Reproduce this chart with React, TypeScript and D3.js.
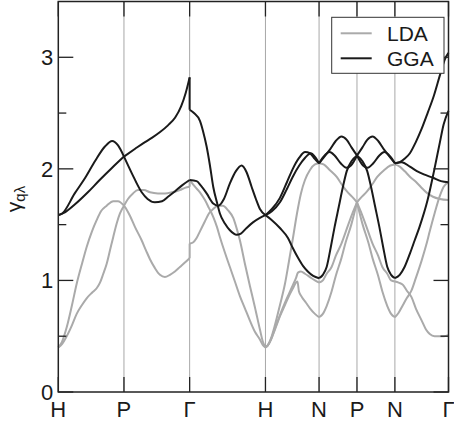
import React from 'react';
import * as d3 from 'd3';

// high-symmetry path of the bcc zone, k in units of 2pi/a
const pathLabels = ['H', 'P', 'Γ', 'H', 'N', 'P', 'N', 'Γ'];
const pathK = [0, 0.866, 1.732, 2.732, 3.439, 3.939, 4.439, 5.146];
const yTicks = [0, 1, 2, 3];
const yMinorTicks = [0.5, 1.5, 2.5];

// bands per segment, points are [t along segment, gamma]
const ggaHP = [
  [[0, 1.585], [0.06, 1.6], [0.25, 1.78], [0.41, 1.92], [0.56, 2.07], [0.71, 2.2], [0.82, 2.25], [0.91, 2.21], [1, 2.11]],
  [[0, 1.585], [0.1, 1.61], [0.25, 1.68], [0.45, 1.79], [0.63, 1.9], [0.82, 2.01], [1, 2.11]],
];
const ggaPG = [
  [[0, 2.11], [0.12, 1.96], [0.27, 1.79], [0.36, 1.73], [0.47, 1.7], [0.58, 1.71], [0.67, 1.75], [0.78, 1.8], [0.88, 1.85], [1, 1.9]],
  [[0, 2.11], [0.17, 2.18], [0.32, 2.24], [0.43, 2.28], [0.55, 2.33], [0.67, 2.39], [0.78, 2.46], [0.87, 2.56], [0.94, 2.68], [1, 2.82]],
];
const ggaGH = [
  [[0, 2.53], [0.057, 2.5], [0.136, 2.43], [0.176, 2.34], [0.224, 2.2], [0.268, 2.03], [0.311, 1.84], [0.36, 1.7], [0.399, 1.6], [0.465, 1.51], [0.531, 1.45], [0.62, 1.41], [0.676, 1.42], [0.751, 1.47], [0.835, 1.52], [0.927, 1.56], [1, 1.585]],
  [[0, 1.9], [0.092, 1.89], [0.149, 1.85], [0.224, 1.78], [0.311, 1.69], [0.377, 1.67], [0.452, 1.73], [0.531, 1.87], [0.61, 1.98], [0.686, 2.03], [0.751, 1.97], [0.817, 1.84], [0.874, 1.73], [0.927, 1.64], [1, 1.585]],
];
const ggaHN = [
  [[0, 1.585], [0.12, 1.54], [0.27, 1.47], [0.42, 1.38], [0.51, 1.29], [0.61, 1.2], [0.7, 1.13], [0.79, 1.08], [0.89, 1.04], [1, 1.02]],
  [[0, 1.585], [0.12, 1.64], [0.27, 1.74], [0.4, 1.88], [0.51, 2.0], [0.63, 2.1], [0.74, 2.15], [0.83, 2.14], [0.92, 2.09], [1, 2.05]],
  [[0, 1.585], [0.12, 1.62], [0.27, 1.7], [0.4, 1.82], [0.51, 1.93], [0.63, 2.03], [0.74, 2.1], [0.85, 2.14], [0.92, 2.11], [1, 2.05]],
];
const ggaNP = [
  [[0, 1.02], [0.1, 1.05], [0.2, 1.12], [0.31, 1.3], [0.41, 1.48], [0.52, 1.66], [0.63, 1.84], [0.73, 1.98], [0.86, 2.07], [1, 2.12]],
  [[0, 2.05], [0.12, 2.1], [0.28, 2.17], [0.44, 2.25], [0.59, 2.29], [0.73, 2.26], [0.86, 2.19], [1, 2.12]],
  [[0, 2.05], [0.12, 2.11], [0.28, 2.15], [0.41, 2.12], [0.57, 2.05], [0.72, 2.01], [0.84, 2.03], [1, 2.12]],
];
const ggaPN = [
  [[0, 2.12], [0.14, 2.07], [0.27, 1.98], [0.37, 1.84], [0.48, 1.66], [0.59, 1.48], [0.69, 1.3], [0.8, 1.12], [0.9, 1.05], [1, 1.02]],
  [[0, 2.12], [0.14, 2.19], [0.27, 2.26], [0.41, 2.29], [0.56, 2.25], [0.72, 2.17], [0.88, 2.1], [1, 2.05]],
  [[0, 2.12], [0.16, 2.03], [0.28, 2.01], [0.43, 2.05], [0.59, 2.12], [0.72, 2.15], [0.88, 2.11], [1, 2.05]],
];
const ggaNG = [
  [[0, 1.02], [0.09, 1.05], [0.18, 1.12], [0.28, 1.24], [0.37, 1.36], [0.46, 1.48], [0.61, 1.72], [0.73, 1.98], [0.84, 2.24], [0.91, 2.4], [1, 2.52]],
  [[0, 2.05], [0.09, 2.06], [0.18, 2.09], [0.28, 2.14], [0.39, 2.24], [0.5, 2.36], [0.61, 2.5], [0.73, 2.66], [0.84, 2.84], [0.93, 2.98], [1, 3.04]],
  [[0, 2.05], [0.13, 2.06], [0.28, 2.02], [0.41, 1.98], [0.54, 1.95], [0.71, 1.92], [0.86, 1.89], [1, 1.88]],
];

const ldaHP = [
  [[0, 0.4], [0.056, 0.45], [0.128, 0.58], [0.209, 0.78], [0.28, 0.97], [0.361, 1.15], [0.432, 1.3], [0.513, 1.44], [0.584, 1.54], [0.65, 1.62], [0.737, 1.67], [0.837, 1.71], [0.909, 1.71], [1, 1.67]],
  [[0, 0.4], [0.056, 0.43], [0.128, 0.5], [0.209, 0.6], [0.28, 0.7], [0.361, 0.78], [0.432, 0.84], [0.513, 0.89], [0.584, 0.93], [0.635, 0.98], [0.685, 1.06], [0.737, 1.15], [0.787, 1.27], [0.837, 1.39], [0.889, 1.51], [0.939, 1.6], [1, 1.67]],
];
const ldaPG = [
  [[0, 1.67], [0.061, 1.73], [0.137, 1.78], [0.213, 1.81], [0.304, 1.81], [0.396, 1.79], [0.517, 1.78], [0.624, 1.78], [0.731, 1.79], [0.852, 1.81], [0.928, 1.83], [1, 1.84]],
  [[0, 1.67], [0.046, 1.63], [0.091, 1.58], [0.167, 1.48], [0.269, 1.36], [0.335, 1.27], [0.396, 1.19], [0.472, 1.11], [0.548, 1.05], [0.624, 1.03], [0.7, 1.05], [0.776, 1.08], [0.852, 1.12], [0.928, 1.16], [1, 1.2]],
];
const ldaGH = [
  [[0, 1.9], [0.07, 1.84], [0.136, 1.79], [0.202, 1.72], [0.254, 1.65], [0.311, 1.57], [0.36, 1.48], [0.399, 1.39], [0.465, 1.25], [0.531, 1.12], [0.597, 0.99], [0.663, 0.86], [0.729, 0.75], [0.795, 0.64], [0.861, 0.54], [0.927, 0.47], [0.966, 0.42], [1, 0.4]],
  [[0, 1.33], [0.044, 1.34], [0.092, 1.38], [0.136, 1.44], [0.202, 1.53], [0.254, 1.6], [0.311, 1.64], [0.373, 1.67], [0.439, 1.67], [0.505, 1.63], [0.575, 1.56], [0.623, 1.46], [0.663, 1.36], [0.729, 1.15], [0.795, 0.95], [0.861, 0.76], [0.927, 0.56], [0.966, 0.45], [1, 0.4]],
];
const ldaHN = [
  [[0, 0.4], [0.047, 0.42], [0.103, 0.48], [0.177, 0.6], [0.271, 0.78], [0.364, 0.97], [0.438, 1.17], [0.513, 1.38], [0.588, 1.6], [0.662, 1.78], [0.737, 1.9], [0.83, 1.99], [0.923, 2.04], [1, 2.05]],
  [[0, 0.4], [0.047, 0.42], [0.103, 0.47], [0.177, 0.57], [0.271, 0.69], [0.364, 0.8], [0.438, 0.88], [0.513, 0.96], [0.569, 1.02], [0.606, 1.07], [0.662, 1.08], [0.737, 1.06], [0.83, 1.03], [0.923, 1.0], [1, 0.98]],
  [[0, 0.4], [0.047, 0.42], [0.103, 0.47], [0.177, 0.56], [0.271, 0.68], [0.364, 0.78], [0.438, 0.86], [0.513, 0.93], [0.569, 0.98], [0.597, 0.99], [0.625, 0.9], [0.681, 0.85], [0.756, 0.8], [0.83, 0.75], [0.923, 0.7], [1, 0.67]],
];
const ldaNP = [
  [[0, 2.05], [0.12, 2.04], [0.28, 1.99], [0.46, 1.93], [0.6, 1.86], [0.73, 1.8], [0.9, 1.74], [1, 1.7]],
  [[0, 0.98], [0.1, 1.0], [0.2, 1.06], [0.33, 1.12], [0.44, 1.22], [0.59, 1.33], [0.77, 1.5], [0.89, 1.61], [1, 1.7]],
  [[0, 0.67], [0.1, 0.7], [0.2, 0.77], [0.33, 0.9], [0.44, 1.04], [0.59, 1.2], [0.7, 1.34], [0.85, 1.5], [1, 1.7]],
];
const ldaPN = [
  [[0, 1.7], [0.1, 1.74], [0.27, 1.8], [0.4, 1.86], [0.54, 1.93], [0.72, 1.99], [0.88, 2.03], [1, 2.04]],
  [[0, 1.7], [0.11, 1.61], [0.23, 1.5], [0.41, 1.33], [0.56, 1.22], [0.67, 1.12], [0.8, 1.06], [0.9, 1.0], [1, 0.99]],
  [[0, 1.7], [0.15, 1.5], [0.3, 1.34], [0.41, 1.2], [0.56, 1.04], [0.67, 0.9], [0.8, 0.77], [0.9, 0.7], [1, 0.67]],
];
const ldaNG = [
  [[0, 2.04], [0.09, 2.02], [0.18, 1.98], [0.28, 1.93], [0.4, 1.88], [0.52, 1.82], [0.61, 1.78], [0.71, 1.75], [0.84, 1.73], [1, 1.72]],
  [[0, 0.99], [0.07, 0.98], [0.15, 0.96], [0.22, 0.91], [0.31, 0.85], [0.39, 0.75], [0.5, 0.64], [0.58, 0.56], [0.65, 0.52], [0.74, 0.5], [0.84, 0.5], [0.91, 0.5], [1, 0.51]],
  [[0, 0.67], [0.07, 0.71], [0.15, 0.78], [0.22, 0.84], [0.31, 0.91], [0.39, 1.02], [0.5, 1.18], [0.58, 1.31], [0.65, 1.44], [0.74, 1.6], [0.84, 1.76], [0.91, 1.84], [1, 1.88]],
];

// discontinuities at the first Gamma point: [left value, right value]
const ggaGammaJumps = [[2.82, 2.53]];
const ldaGammaJumps = [[1.84, 1.9], [1.2, 1.33]];

const ggaSegments = [ggaHP, ggaPG, ggaGH, ggaHN, ggaNP, ggaPN, ggaNG];
const ldaSegments = [ldaHP, ldaPG, ldaGH, ldaHN, ldaNP, ldaPN, ldaNG];

const series = [
  { name: 'LDA', color: '#aaaaaa', segments: ldaSegments, jumps: ldaGammaJumps },
  { name: 'GGA', color: '#1a1a1a', segments: ggaSegments, jumps: ggaGammaJumps },
];

const W = 454;
const H = 422;
const left = 58.3;
const right = 448.5;
const top = 1.5;
const bottom = 392;
const font = '"Liberation Sans", Arial, Helvetica, sans-serif';

export default function App() {
  const x = d3.scaleLinear().domain([0, pathK[pathK.length - 1]]).range([left, right]);
  const y = d3.scaleLinear().domain([0, 3.5]).range([bottom, top]);
  const line = d3.line<number[]>().x(d => d[0]).y(d => d[1]).curve(d3.curveMonotoneX);

  const curvePath = (seg: number, pts: number[][]) => {
    const k0 = pathK[seg];
    const k1 = pathK[seg + 1];
    return line(pts.map(([t, g]) => [x(k0 + t * (k1 - k0)), y(g)])) || '';
  };

  return (
    <svg width={W} height={H} style={{ position: 'absolute', left: 0, top: 0, background: '#fff' }}>
      {/* vertical lines at high-symmetry points */}
      {pathK.slice(1, -1).map((k, i) => (
        <line key={'v' + i} x1={x(k)} x2={x(k)} y1={top} y2={bottom} stroke="#a8a8a8" strokeWidth={1} />
      ))}
      {series.map(s => (
        <g key={s.name} fill="none" stroke={s.color} strokeWidth={2} strokeLinejoin="round">
          {s.segments.map((curves, si) =>
            curves.map((pts, ci) => <path key={si + '-' + ci} d={curvePath(si, pts)} />)
          )}
          {s.jumps.map(([a, b], i) => (
            <line key={'j' + i} x1={x(pathK[2])} x2={x(pathK[2])} y1={y(a)} y2={y(b)} />
          ))}
        </g>
      ))}
      {/* ticks */}
      <g stroke="#222" strokeWidth={1.3}>
        {yTicks.map(v => (
          <g key={'yt' + v}>
            <line x1={left} x2={left + 15} y1={y(v)} y2={y(v)} />
            <line x1={right - 15} x2={right} y1={y(v)} y2={y(v)} />
          </g>
        ))}
        {yMinorTicks.map(v => (
          <g key={'ym' + v}>
            <line x1={left} x2={left + 8} y1={y(v)} y2={y(v)} />
            <line x1={right - 8} x2={right} y1={y(v)} y2={y(v)} />
          </g>
        ))}
        {pathK.map((k, i) => (
          <g key={'xt' + i}>
            <line x1={x(k)} x2={x(k)} y1={bottom} y2={bottom - 15} />
            <line x1={x(k)} x2={x(k)} y1={top} y2={top + 15} />
          </g>
        ))}
      </g>
      <rect x={left} y={top} width={right - left} height={bottom - top} fill="none" stroke="#222" strokeWidth={1.5} />
      {/* tick labels */}
      <g fontFamily={font} fontSize={22} fill="#1a1a1a">
        {yTicks.map(v => (
          <text key={'yl' + v} x={left - 5} y={y(v) + 8} textAnchor="end">{v}</text>
        ))}
        {pathK.map((k, i) => (
          <text key={'xl' + i} x={x(k)} y={417} textAnchor="middle">{pathLabels[i]}</text>
        ))}
        <text transform={`translate(21,199) rotate(-90)`} textAnchor="middle">
          <tspan fontSize={21}>γ</tspan>
          <tspan fontSize={15} dy={4}>qλ</tspan>
        </text>
      </g>
      {/* legend */}
      <g fontFamily={font} fontSize={21} fill="#1a1a1a">
        <rect x={331.7} y={17.3} width={112.3} height={56} fill="#fff" stroke="#333" strokeWidth={1} />
        {series.map((s, i) => (
          <g key={'lg' + s.name}>
            <line x1={340.7} x2={371.7} y1={33.3 + i * 25} y2={33.3 + i * 25} stroke={s.color} strokeWidth={2} />
            <text x={387} y={41 + i * 24.5}>{s.name}</text>
          </g>
        ))}
      </g>
    </svg>
  );
}
